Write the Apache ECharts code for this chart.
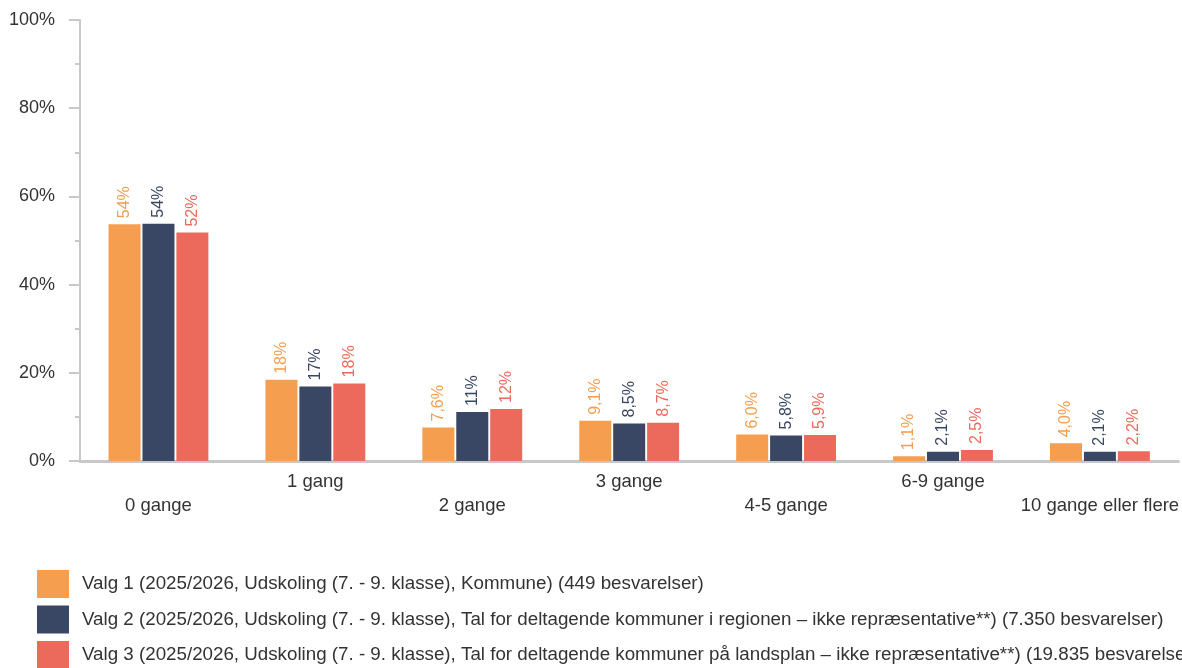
<!DOCTYPE html>
<html>
<head>
<meta charset="utf-8">
<script src="https://cdn.jsdelivr.net/npm/echarts@6/dist/echarts.min.js"></script>
<style>
  html, body { margin: 0; padding: 0; background: #fff; }
  #chart { width: 1182px; height: 668px; }
</style>
</head>
<body>
<div id="chart"></div>
<script>
// kategorier og værdier (procent)
var categories = ['0 gange', '1 gang', '2 gange', '3 gange', '4-5 gange', '6-9 gange', '10 gange eller flere'];
var valg1 = [53.7, 18.4, 7.6, 9.1, 6.0, 1.1, 4.0];
var valg2 = [53.8, 16.9, 11.1, 8.5, 5.8, 2.1, 2.1];
var valg3 = [51.8, 17.6, 11.8, 8.7, 5.9, 2.5, 2.2];
var seriesNames = [
    'Valg 1 (2025/2026, Udskoling (7. - 9. klasse), Kommune) (449 besvarelser)',
    'Valg 2 (2025/2026, Udskoling (7. - 9. klasse), Tal for deltagende kommuner i regionen – ikke repræsentative**) (7.350 besvarelser)',
    'Valg 3 (2025/2026, Udskoling (7. - 9. klasse), Tal for deltagende kommuner på landsplan – ikke repræsentative**) (19.835 besvarelser)'
];
var colors = ['#f59e4f', '#394764', '#eb6a5c'];
var yTicks = [0, 20, 40, 60, 80, 100];

// tal formatering: >=10 uden decimal, ellers en decimal med komma
function fmt(v){
    if (v >= 10) return Math.round(v) + '%';
    return v.toFixed(1).replace('.', ',') + '%';
}

function makeSeries(i, data){
    return {
        name: seriesNames[i],
        type: 'bar',
        data: data,
        barWidth: 32,
        barGap: '6%',
        itemStyle: { color: colors[i] },
        label: {
            show: true,
            position: 'top',
            rotate: 90,
            align: 'left',
            verticalAlign: 'middle',
            distance: 6,
            fontSize: 16,
            fontFamily: 'Liberation Sans',
            color: colors[i],
            formatter: function(p){ return fmt(p.value); }
        }
    };
}

var chart = echarts.init(document.getElementById('chart'));
chart.setOption({
    animation: false,
    textStyle: { fontFamily: 'Liberation Sans' },
    grid: { left: 80, right: 2, top: 20, bottom: 207, containLabel: false },
    legend: {
        orient: 'vertical',
        left: 37,
        top: 570,
        height: 300,
        padding: 0,
        itemWidth: 32,
        itemHeight: 28,
        itemGap: 7.5,
        icon: 'rect',
        textStyle: { fontSize: 18.75, color: '#333', fontFamily: 'Liberation Sans', padding: [0, 0, 0, 8] },
        data: seriesNames
    },
    xAxis: {
        type: 'category',
        data: categories,
        axisLine: { lineStyle: { color: '#c8c8c8', width: 3 } },
        axisTick: { show: false },
        axisLabel: {
            interval: 0,
            margin: 9,
            fontSize: 18.5,
            lineHeight: 24,
            color: '#333',
            formatter: function(v, idx){ return idx % 2 === 0 ? '\n' + v : v; }
        }
    },
    yAxis: {
        type: 'value',
        min: yTicks[0],
        max: yTicks[yTicks.length - 1],
        interval: 20,
        axisLine: { show: true, lineStyle: { color: '#c8c8c8', width: 2 } },
        axisTick: { show: true, inside: false, length: 11, lineStyle: { color: '#c8c8c8', width: 2 } },
        minorTick: { show: true, splitNumber: 2, length: 5, lineStyle: { color: '#c8c8c8', width: 2 } },
        splitLine: { show: false },
        axisLabel: { fontSize: 18, color: '#333', margin: 25, formatter: '{value}%' }
    },
    series: [makeSeries(0, valg1), makeSeries(1, valg2), makeSeries(2, valg3)]
});
</script>
</body>
</html>
